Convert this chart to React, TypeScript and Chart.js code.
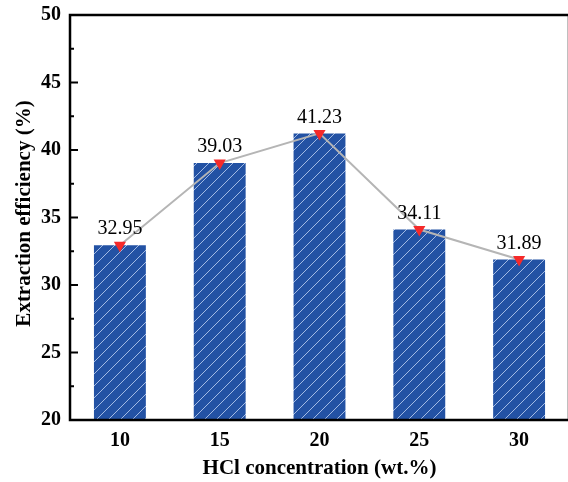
import React, { useEffect, useRef } from 'react';
import { Chart, registerables } from 'chart.js';

Chart.register(...registerables);

// ---- data ----
const categories = ['10', '15', '20', '25', '30'];
const efficiency = [32.95, 39.03, 41.23, 34.11, 31.89];
const yMin = 20;
const yMax = 50;
const yMajorStep = 5;
const yMinorStep = 2.5;

const xTitle = 'HCl concentration (wt.%)';
const yTitle = 'Extraction efficiency (%)';

const SERIF = '"Liberation Serif", "Times New Roman", serif';

function makeHatch(): CanvasPattern | string {
  const s = 12;
  const c = document.createElement('canvas');
  c.width = s;
  c.height = s;
  const g = c.getContext('2d');
  if (!g) return '#2352a4';
  g.fillStyle = '#2352a4';
  g.fillRect(0, 0, s, s);
  g.strokeStyle = 'rgba(185,205,240,0.85)';
  g.lineWidth = 1;
  g.beginPath();
  g.moveTo(0, s);
  g.lineTo(s, 0);
  g.moveTo(-2, 2);
  g.lineTo(2, -2);
  g.moveTo(s - 2, s + 2);
  g.lineTo(s + 2, s - 2);
  g.stroke();
  const p = g.createPattern(c, 'repeat');
  return p || '#2352a4';
}

const framePlugin = {
  id: 'framePlugin',
  afterDraw(chart: any) {
    const { ctx, chartArea, scales } = chart;
    const { left, top, right, bottom } = chartArea;
    ctx.save();
    ctx.strokeStyle = '#000';
    ctx.lineJoin = 'miter';
    ctx.lineCap = 'square';
    ctx.lineWidth = 2.5;
    ctx.beginPath();
    ctx.moveTo(left, bottom);
    ctx.lineTo(left, top);
    ctx.lineTo(right, top);
    ctx.lineTo(right, bottom);
    ctx.closePath();
    ctx.stroke();

    // inward ticks on y axis
    ctx.lineWidth = 2;
    ctx.lineCap = 'butt';
    ctx.beginPath();
    scales.y.ticks.forEach((t: any) => {
      if (t.value <= yMin || t.value >= yMax) return;
      const y = scales.y.getPixelForValue(t.value);
      const major = Math.abs(t.value % yMajorStep) < 1e-6;
      ctx.moveTo(left, y);
      ctx.lineTo(left + (major ? 8 : 4), y);
    });
    ctx.stroke();

    // value labels
    const meta = chart.getDatasetMeta(1);
    ctx.fillStyle = '#000';
    ctx.font = `20px ${SERIF}`;
    ctx.textAlign = 'center';
    ctx.textBaseline = 'middle';
    meta.data.forEach((pt: any, i: number) => {
      ctx.fillText(efficiency[i].toFixed(2), pt.x, pt.y - 16);
    });

    // y axis title
    ctx.save();
    ctx.translate(25, (top + bottom) / 2 - 4);
    ctx.rotate(-Math.PI / 2);
    ctx.font = `bold 21px ${SERIF}`;
    ctx.textAlign = 'center';
    ctx.textBaseline = 'middle';
    ctx.fillText(yTitle, 0, 0);
    ctx.restore();

    ctx.restore();
  },
};

export default function App() {
  const ref = useRef<HTMLCanvasElement | null>(null);

  useEffect(() => {
    if (!ref.current) return;
    const hatch = makeHatch();
    const chart = new Chart(ref.current, {
      type: 'bar',
      data: {
        labels: categories,
        datasets: [
          {
            type: 'bar',
            data: efficiency,
            backgroundColor: hatch as any,
            borderWidth: 0,
            categoryPercentage: 1,
            barPercentage: 0.52,
            order: 2,
          },
          {
            type: 'line',
            data: efficiency,
            borderColor: '#b5b5b5',
            borderWidth: 2,
            pointStyle: 'triangle',
            rotation: 180,
            pointRadius: 7,
            pointHoverRadius: 7,
            pointBackgroundColor: '#f52a2a',
            pointBorderWidth: 0,
            pointBorderColor: '#f52a2a',
            tension: 0,
            order: 1,
          } as any,
        ],
      },
      options: {
        animation: false,
        responsive: false,
        events: [],
        layout: { padding: { left: 0, top: 15, right: 3, bottom: 0 } },
        plugins: {
          legend: { display: false },
          tooltip: { enabled: false },
        },
        scales: {
          x: {
            type: 'category',
            offset: true,
            grid: { display: false, drawTicks: false },
            border: { display: false },
            ticks: {
              color: '#000',
              padding: 9,
              font: { family: SERIF, size: 20, weight: 'bold' },
            },
            title: {
              display: true,
              text: xTitle,
              color: '#000',
              padding: { top: 0, bottom: 1 },
              font: { family: SERIF, size: 21, weight: 'bold' },
            },
            afterFit: (s: any) => {
              s.height = 62;
              s.paddingLeft = 0;
              s.paddingRight = 0;
            },
          },
          y: {
            min: yMin,
            max: yMax,
            grid: { display: false, drawTicks: false },
            border: { display: false },
            ticks: {
              stepSize: yMinorStep,
              color: '#000',
              padding: 9,
              font: { family: SERIF, size: 20, weight: 'bold' },
              callback: (v: any) =>
                Math.abs(Number(v) % yMajorStep) < 1e-6 ? String(v) : '',
            },
            title: { display: false },
            afterFit: (s: any) => {
              s.width = 70;
              s.paddingTop = 0;
              s.paddingBottom = 0;
            },
          },
        },
      } as any,
      plugins: [framePlugin],
    });
    return () => chart.destroy();
  }, []);

  return (
    <div
      style={{
        position: 'absolute',
        left: 0,
        top: 0,
        width: 568,
        height: 482,
        overflow: 'hidden',
        background: '#fff',
      }}
    >
      <canvas
        ref={ref}
        width={576}
        height={482}
        style={{ display: 'block', width: 576, height: 482 }}
      />
    </div>
  );
}
